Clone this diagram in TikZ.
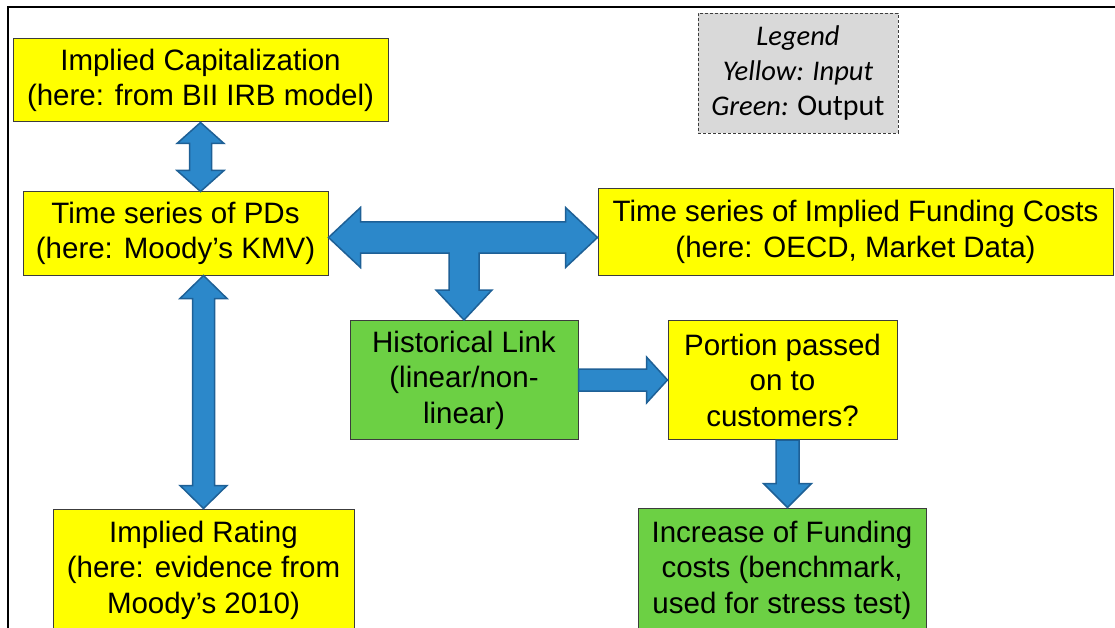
\documentclass[tikz,border=0pt]{standalone}
\usepackage{fontspec}
\setmainfont{Liberation Sans}
\newfontfamily\legendfont{Carlito}
\usetikzlibrary{calc}
\definecolor{boxyellow}{RGB}{255,255,0}
\definecolor{boxgreen}{RGB}{108,208,68}
\definecolor{boxline}{RGB}{60,60,60}
\definecolor{legendgray}{RGB}{217,217,217}
\definecolor{arrowblue}{RGB}{44,136,202}
\definecolor{arrowline}{RGB}{30,96,150}
\tikzset{
    box/.style={rectangle, draw=boxline, line width=1pt, align=center, inner sep=0pt,
                font=\fontsize{29.5}{35.5}\selectfont,
                execute at begin node={\rule{0pt}{28pt}}},
    inbox/.style={box, fill=boxyellow},
    outbox/.style={box, fill=boxgreen},
    legendbox/.style={rectangle, draw=boxline, line width=0.9pt, dash pattern=on 3pt off 2pt,
                fill=legendgray, align=center, inner sep=0pt,
                font=\legendfont\itshape\fontsize{28.5}{35}\selectfont},
    blockarrow/.style={fill=arrowblue, draw=arrowline, line width=1.5pt, line join=miter}
}
% block arrows: from, to, shaft half width, head half width, head length
\newcommand{\dblarrow}[5]{%
    \filldraw[blockarrow] (#1)
        -- ($(#1)!#5!(#2)!#4!90:(#2)$) -- ($(#1)!#5!(#2)!#3!90:(#2)$)
        -- ($(#2)!#5!(#1)!#3!-90:(#1)$) -- ($(#2)!#5!(#1)!#4!-90:(#1)$)
        -- (#2)
        -- ($(#2)!#5!(#1)!#4!90:(#1)$) -- ($(#2)!#5!(#1)!#3!90:(#1)$)
        -- ($(#1)!#5!(#2)!#3!-90:(#2)$) -- ($(#1)!#5!(#2)!#4!-90:(#2)$)
        -- cycle;}
\newcommand{\sglarrow}[5]{%
    \filldraw[blockarrow] ($(#1)!#3!90:(#2)$)
        -- ($(#2)!#5!(#1)!#3!-90:(#1)$) -- ($(#2)!#5!(#1)!#4!-90:(#1)$)
        -- (#2)
        -- ($(#2)!#5!(#1)!#4!90:(#1)$) -- ($(#2)!#5!(#1)!#3!90:(#1)$)
        -- ($(#1)!#3!-90:(#2)$)
        -- cycle;}

\begin{document}
\begin{tikzpicture}[x=1pt, y=-1pt]
    \clip (0,0) rectangle (1115,628);
    \draw [line width=2pt] (8,650) -- (8,7) -- (1130,7);
    \node [inbox, minimum width=375pt, minimum height=83pt] (cap) at (200.5,80.5)
        {Implied Capitalization\\(here: from BII IRB model)};
    \node [inbox, minimum width=305pt, minimum height=83pt] (pd) at (175.5,233.5)
        {Time series of PDs\\(here: Moody’s KMV)};
    \node [inbox, minimum width=301pt, minimum height=122pt] (rate) at (203.5,570)
        {Implied Rating\\(here: evidence from\\Moody’s 2010)};
    \node [inbox, minimum width=515pt, minimum height=86pt] (fund) at (855.5,232)
        {Time series of Implied Funding Costs\\(here: OECD, Market Data)};
    \node [outbox, minimum width=228pt, minimum height=119pt] (hist) at (464,380)
        {Historical Link\\(linear/non-\\linear)};
    \node [inbox, minimum width=229pt, minimum height=119pt] (port) at (782.5,380)
        {Portion passed\\on to\\customers?};
    \node [outbox, minimum width=288pt, minimum height=124pt] (inc) at (782,570)
        {Increase of Funding\\costs (benchmark,\\used for stress test)};
    \node [legendbox, minimum width=200pt, minimum height=120pt] (legend) at (798,73)
        {Legend\\Yellow: Input\\Green: {\upshape\fontsize{30}{35}\selectfont Output}};
    \coordinate (pdtop) at (cap.south |- pd.north);
    \coordinate (pdbot) at (rate.north |- pd.south);
    \coordinate (tl) at ([yshift=-4pt]pd.east);
    \coordinate (tr) at (tl -| fund.west);
    \coordinate (tb) at (hist.north);
    \coordinate (pbot) at ([xshift=5pt]port.south);
    \coordinate (itop) at (pbot |- inc.north);
    \dblarrow{cap.south}{pdtop}{11pt}{23.5pt}{21pt}
    \dblarrow{pdbot}{rate.north}{11pt}{23.5pt}{23pt}
    \sglarrow{hist.east}{port.west}{11pt}{23pt}{21pt}
    \sglarrow{pbot}{itop}{11.5pt}{24pt}{24pt}
    \filldraw [blockarrow] (tl) -- ($(tl)+(32,-30)$) -- ($(tl)+(32,-15.5)$)
        -- ($(tr)+(-32,-15.5)$) -- ($(tr)+(-32,-30)$) -- (tr)
        -- ($(tr)+(-32,30)$) -- ($(tr)+(-32,15.5)$)
        -- ($(tb |- tr)+(15,15.5)$) -- ($(tb)+(15,-30)$) -- ($(tb)+(28,-30)$) -- (tb)
        -- ($(tb)+(-28,-30)$) -- ($(tb)+(-15,-30)$) -- ($(tb |- tr)+(-15,15.5)$)
        -- ($(tl)+(32,15.5)$) -- ($(tl)+(32,30)$) -- cycle;
\end{tikzpicture}
\end{document}
